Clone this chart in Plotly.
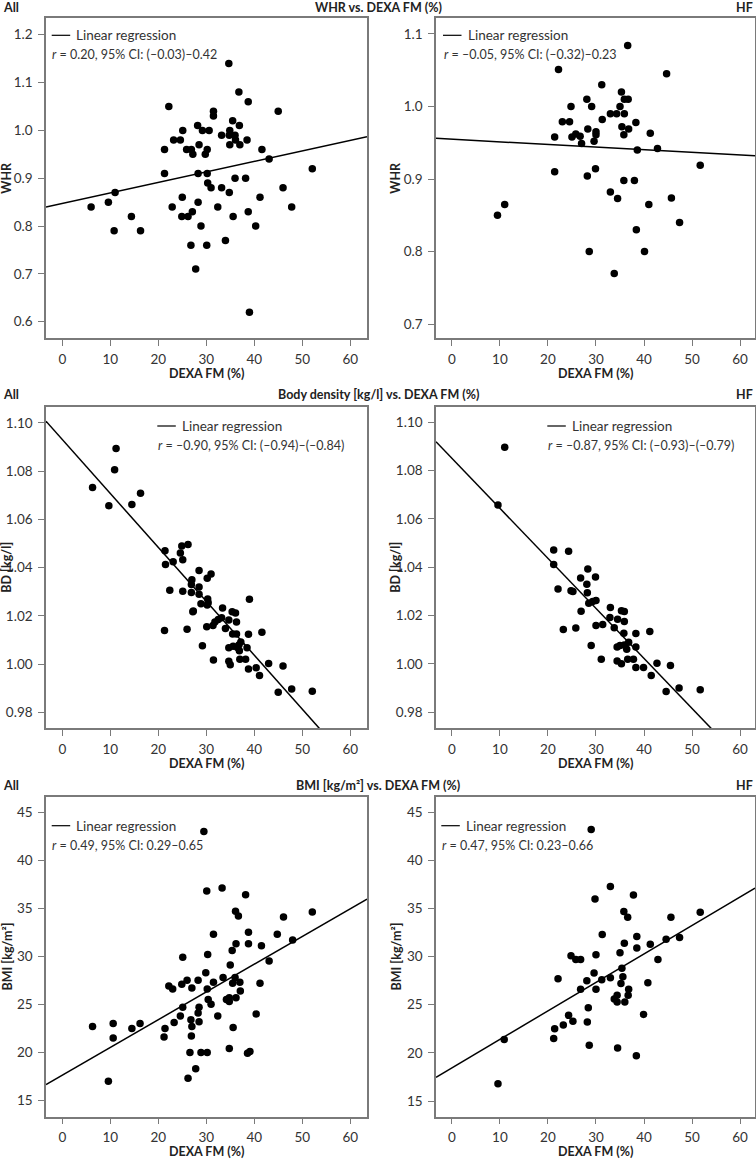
import plotly.graph_objects as go

W, H = 756, 1160

# ---------- values ----------------------------------------------------------

fm_ticks = [0, 10, 20, 30, 40, 50, 60]

# WHR vs DEXA FM, all subjects
all_whr_fm = [34.7, 36.8, 38.75, 22.2, 31.5, 31.5, 45.0, 35.5, 28.2, 36.9, 25.1, 29.2, 30.6, 34.9,
              33.2, 34.8, 36.0, 36.1, 38.5, 34.9, 37.0, 23.2, 24.6, 28.5, 21.3, 25.9, 26.9, 30.2,
              27.2, 29.8, 41.6, 43.1, 52.1, 21.3, 28.3, 30.2, 30.3, 31.0, 33.2, 36.0, 38.2, 34.8,
              11.0, 46.0, 25.0, 41.2, 6.0, 9.6, 14.4, 10.8, 16.3, 22.9, 24.9, 26.2, 27.1, 28.3,
              28.9, 26.8, 30.1, 27.8, 32.4, 34.0, 35.6, 38.75, 40.3, 47.8, 39.0]
all_whr = [1.14, 1.08, 1.06, 1.05, 1.04, 1.03, 1.04, 1.02, 1.01, 1.01, 1.00, 1.00, 1.00, 1.00,
           0.99, 0.99, 0.99, 0.98, 0.98, 0.97, 0.97, 0.98, 0.98, 0.97, 0.96, 0.96, 0.96, 0.96,
           0.95, 0.95, 0.96, 0.94, 0.92, 0.91, 0.91, 0.91, 0.89, 0.88, 0.88, 0.90, 0.90, 0.87,
           0.87, 0.88, 0.86, 0.86, 0.84, 0.85, 0.82, 0.79, 0.79, 0.84, 0.82, 0.82, 0.83, 0.85,
           0.80, 0.76, 0.76, 0.71, 0.84, 0.77, 0.82, 0.83, 0.80, 0.84, 0.62]

# WHR vs DEXA FM, HF
hf_whr_fm = [36.6, 22.2, 44.7, 31.2, 35.3, 28.1, 35.9, 36.7, 24.8, 29.1, 35.0, 33.0, 34.3, 35.9,
             23.0, 24.5, 31.3, 38.3, 35.4, 36.8, 28.3, 41.3, 30.0, 30.0, 25.8, 21.4, 25.0, 26.7,
             35.8, 27.0, 29.6, 42.8, 38.6, 21.4, 28.2, 29.9, 35.8, 38.0, 51.7, 33.0, 34.5, 45.7,
             9.5, 11.0, 28.6, 33.8, 38.4, 41.0, 40.1, 47.4]
hf_whr = [1.084, 1.051, 1.045, 1.03, 1.02, 1.01, 1.01, 1.01, 1.0, 1.0, 1.0, 0.99, 0.99, 0.99,
          0.979, 0.979, 0.982, 0.978, 0.972, 0.969, 0.969, 0.963, 0.965, 0.961, 0.962, 0.958, 0.958, 0.959,
          0.961, 0.949, 0.952, 0.942, 0.94, 0.91, 0.904, 0.914, 0.898, 0.898, 0.919, 0.882, 0.873, 0.874,
          0.85, 0.865, 0.80, 0.77, 0.83, 0.865, 0.80, 0.84]

# Body density vs DEXA FM, all subjects
all_bd_fm = [11.2, 10.9, 6.3, 9.7, 14.5, 16.3, 21.4, 21.5, 23.1, 24.6, 24.9, 26.2, 25.1, 28.5,
             31.0, 30.2, 22.4, 25.1, 27.0, 26.9, 28.5, 26.9, 28.5, 30.3, 30.4, 30.2, 28.9, 27.3,
             27.2, 33.4, 35.4, 36.1, 34.7, 36.3, 33.2, 31.8, 32.5, 31.4, 30.1, 34.0, 39.0, 21.3,
             26.0, 35.5, 36.3, 38.8, 41.6, 37.2, 36.8, 34.7, 35.6, 36.5, 36.9, 38.5, 29.2, 31.5,
             34.7, 35.0, 37.0, 38.2, 38.8, 40.4, 43.0, 46.0, 41.1, 45.0, 47.8, 52.1]
all_bd = [1.0894, 1.0806, 1.0732, 1.0657, 1.0662, 1.0708, 1.047, 1.0413, 1.0424, 1.0461, 1.049, 1.0496, 1.0433, 1.0388,
          1.0374, 1.0356, 1.0306, 1.0302, 1.035, 1.033, 1.032, 1.0297, 1.029, 1.027, 1.0255, 1.0245, 1.025, 1.022,
          1.0217, 1.0233, 1.0217, 1.0212, 1.0183, 1.0175, 1.0192, 1.0175, 1.0185, 1.016, 1.0155, 1.0148, 1.0269, 1.0139,
          1.0145, 1.0125, 1.0125, 1.0124, 1.0132, 1.0092, 1.0079, 1.0068, 1.0074, 1.0069, 1.0055, 1.0068, 1.0076, 1.0017,
          1.0012, 0.9997, 1.002, 1.002, 0.998, 0.9985, 1.0003, 0.9992, 0.9953, 0.9883, 0.9897, 0.9888]

# Body density vs DEXA FM, HF
hf_bd_fm = [11.0, 9.6, 21.2, 21.2, 24.3, 28.3, 26.8, 29.9, 22.1, 24.8, 25.2, 28.1, 28.2, 28.5,
            29.3, 30.0, 26.9, 33.0, 32.9, 34.5, 35.3, 35.9, 35.9, 30.0, 31.4, 33.8, 23.2, 25.8,
            35.8, 38.3, 41.2, 29.0, 34.4, 35.0, 36.8, 36.4, 38.3, 35.9, 31.1, 34.4, 35.3, 36.6,
            37.8, 38.3, 39.9, 42.7, 45.5, 41.5, 44.6, 47.3, 51.7]
hf_bd = [1.0897, 1.0658, 1.0472, 1.0412, 1.0466, 1.0393, 1.0356, 1.036, 1.031, 1.0303, 1.030, 1.033, 1.0295, 1.0251,
         1.0258, 1.0263, 1.0218, 1.0234, 1.0192, 1.0185, 1.022, 1.0217, 1.0176, 1.0159, 1.0163, 1.015, 1.0143, 1.0149,
         1.0127, 1.0126, 1.0134, 1.0077, 1.007, 1.0076, 1.009, 1.0061, 1.007, 1.0079, 1.002, 1.0012, 1.0001, 1.002,
         1.002, 0.9986, 0.9986, 1.0003, 0.9994, 0.9952, 0.9886, 0.9901, 0.9893]

# BMI vs DEXA FM, all subjects
all_bmi_fm = [29.5, 30.1, 33.3, 38.2, 36.1, 36.7, 46.1, 52.1, 31.5, 38.8, 44.8, 48.0, 36.2, 38.8,
              41.5, 35.4, 30.3, 25.1, 43.1, 35.0, 6.3, 10.6, 10.6, 14.5, 16.2, 9.6, 21.4, 21.2,
              22.2, 23.0, 23.3, 24.6, 24.9, 26.0, 25.1, 27.0, 26.8, 27.0, 26.9, 26.6, 26.2, 27.8,
              28.3, 28.5, 28.3, 28.5, 28.9, 29.9, 30.2, 30.2, 30.4, 31.0, 31.5, 32.4, 33.5, 34.2,
              34.8, 34.8, 35.5, 36.0, 36.2, 37.0, 37.1, 35.6, 34.8, 38.6, 39.1, 40.4, 41.2]
all_bmi = [43.0, 36.8, 37.1, 36.4, 34.7, 34.2, 34.1, 34.6, 32.3, 32.5, 32.3, 31.7, 31.3, 31.3,
           31.1, 30.6, 30.2, 29.9, 29.5, 29.1, 22.7, 23.0, 21.5, 22.5, 23.0, 17.0, 22.5, 21.6,
           26.9, 26.6, 23.1, 23.8, 27.1, 27.5, 24.7, 26.7, 23.4, 22.7, 21.7, 20.0, 17.3, 18.3,
           27.5, 24.7, 24.1, 23.2, 20.0, 28.3, 20.0, 26.6, 25.5, 25.0, 27.3, 23.8, 27.8, 25.5,
           25.7, 25.3, 27.2, 27.8, 25.7, 27.3, 26.4, 22.6, 20.4, 19.9, 20.1, 24.0, 27.2]

# BMI vs DEXA FM, HF
hf_bmi_fm = [29.0, 33.0, 29.8, 37.8, 35.8, 36.6, 45.6, 51.7, 31.3, 38.5, 44.6, 47.4, 35.9, 38.5,
             41.3, 35.0, 30.0, 24.8, 25.8, 26.8, 42.9, 35.4, 22.1, 29.6, 28.1, 31.2, 33.0, 35.6,
             35.2, 36.8, 36.7, 34.4, 33.8, 34.4, 36.0, 26.8, 30.0, 40.8, 28.4, 24.3, 25.2, 23.2,
             21.4, 21.2, 28.2, 10.9, 9.6, 28.6, 34.5, 38.4, 39.9]
hf_bmi = [43.2, 37.3, 36.0, 36.4, 34.7, 34.1, 34.1, 34.6, 32.3, 32.1, 31.8, 32.0, 31.4, 30.9,
          31.3, 30.4, 30.2, 30.1, 29.7, 29.7, 29.7, 28.8, 27.7, 28.3, 27.5, 27.6, 27.8, 27.9,
          27.2, 26.6, 26.0, 26.0, 25.6, 25.3, 25.3, 26.6, 26.6, 27.3, 24.7, 23.9, 23.3, 22.9,
          22.5, 21.5, 23.2, 21.4, 16.8, 20.8, 20.5, 19.7, 24.0]

# regression lines as drawn (intercept, slope)
reg_intercept = [0.8475, 0.9548, 1.0931, 1.0851, 17.63, 18.44]
reg_slope = [0.002193, -0.000362, -0.002235, -0.00207, 0.2886, 0.2962]

r_texts = [
    "<i>r</i> = 0.20, 95% CI: (–0.03)–0.42",
    "<i>r</i> = –0.05, 95% CI: (–0.32)–0.23",
    "<i>r</i> = –0.90, 95% CI: (–0.94)–(–0.84)",
    "<i>r</i> = –0.87, 95% CI: (–0.93)–(–0.79)",
    "<i>r</i> = 0.49, 95% CI: 0.29–0.65",
    "<i>r</i> = 0.47, 95% CI: 0.23–0.66",
]

row_titles = ["WHR vs. DEXA FM (%)", "Body density [kg/l] vs. DEXA FM (%)",
              "BMI [kg/m²] vs. DEXA FM (%)"]
y_titles = ["WHR", "WHR", "BD [kg/l]", "BD [kg/l]", "BMI [kg/m²]", "BMI [kg/m²]"]
y_ticks = [
    [0.6, 0.7, 0.8, 0.9, 1.0, 1.1, 1.2],
    [0.7, 0.8, 0.9, 1.0, 1.1],
    [0.98, 1.00, 1.02, 1.04, 1.06, 1.08, 1.10],
    [0.98, 1.00, 1.02, 1.04, 1.06, 1.08, 1.10],
    [15, 20, 25, 30, 35, 40, 45],
    [15, 20, 25, 30, 35, 40, 45],
]

xs = [all_whr_fm, hf_whr_fm, all_bd_fm, hf_bd_fm, all_bmi_fm, hf_bmi_fm]
ys = [all_whr, hf_whr, all_bd, hf_bd, all_bmi, hf_bmi]

# ---------- layout (pixel boxes of each panel) -------------------------------
boxes = [(46, 17.5, 367, 338), (436, 17.5, 755, 338),
         (46, 407, 367, 728.3), (436, 407, 755, 728.3),
         (46, 796.5, 367, 1116.5), (436, 796.5, 755, 1116.5)]
x_ranges = [[-3.4, 63.5], [-3.3, 63.1]] * 3
y_ranges = [[0.566, 1.236], [0.681, 1.1225], [0.9734, 1.1066], [0.9734, 1.1063],
            [13.33, 46.63], [13.39, 46.64]]
y_fmt = [".1f", ".1f", ".2f", ".2f", "d", "d"]
# legend line start offset (px from panel left) and vertical offsets (px from top)
leg_dx = [5.7, 7, 111.3, 111.3, 5.7, 5.3]
leg_dy = [17.8, 17.8, 19, 19, 29.2, 29.2]
ytitle_x = [7, 396]

FONT = "Lato"
AX_COL = "#7a7a7a"


def fx(p):
    return p / W


def fy(p):
    return 1 - p / H


fig = go.Figure()
annotations = []
shapes = []

for i in range(6):
    n = "" if i == 0 else str(i + 1)
    left, top, right, bottom = boxes[i]
    fig.add_trace(go.Scatter(
        x=xs[i], y=ys[i], mode="markers", xaxis="x" + n, yaxis="y" + n,
        marker=dict(color="black", size=7.5), showlegend=False, hoverinfo="x+y",
    ))
    x0, x1 = x_ranges[i]
    fig.add_trace(go.Scatter(
        x=[x0, x1], y=[reg_intercept[i] + reg_slope[i] * x0, reg_intercept[i] + reg_slope[i] * x1],
        mode="lines", xaxis="x" + n, yaxis="y" + n,
        line=dict(color="black", width=1.5), showlegend=False, hoverinfo="skip",
    ))
    axis_common = dict(showline=True, mirror=True, linecolor=AX_COL, linewidth=1.5,
                       ticks="outside", ticklen=6, tickcolor=AX_COL, tickwidth=1.2,
                       showgrid=False, zeroline=False,
                       tickfont=dict(family=FONT, size=13.5, color="#333"))
    fig.update_layout({
        "xaxis" + n: dict(axis_common, domain=[fx(left), fx(right)], range=x_ranges[i],
                          tickvals=fm_ticks, anchor="y" + n, ticklabelstandoff=2),
        "yaxis" + n: dict(axis_common, domain=[fy(bottom), fy(top)], range=y_ranges[i],
                          tickvals=y_ticks[i], tickformat=y_fmt[i], anchor="x" + n,
                          ticklabelstandoff=3),
    })

    # in-plot legend: line sample + text, then r line
    lx = left + leg_dx[i]
    ly = top + leg_dy[i]
    shapes.append(dict(type="line", xref="paper", yref="paper",
                       x0=fx(lx), x1=fx(lx + 18.5), y0=fy(ly), y1=fy(ly),
                       line=dict(color="black", width=1.2)))
    annotations.append(dict(text="Linear regression", x=fx(lx + 22.5), y=fy(ly),
                            xref="paper", yref="paper", xanchor="left", yanchor="middle",
                            showarrow=False, font=dict(family=FONT, size=13.5, color="#333")))
    annotations.append(dict(text=r_texts[i], x=fx(lx - 1.5), y=fy(ly + 19.4),
                            xref="paper", yref="paper", xanchor="left", yanchor="middle",
                            showarrow=False, font=dict(family=FONT, size=12.5, color="#333")))

    # axis titles
    annotations.append(dict(text="<b>DEXA FM (%)</b>", x=fx((left + right) / 2), y=fy(bottom + 35),
                            xref="paper", yref="paper", xanchor="center", yanchor="middle",
                            showarrow=False, font=dict(family=FONT, size=12.5, color="#222")))
    annotations.append(dict(text="<b>" + y_titles[i] + "</b>", x=fx(ytitle_x[i % 2]),
                            y=fy((top + bottom) / 2), textangle=-90,
                            xref="paper", yref="paper", xanchor="center", yanchor="middle",
                            showarrow=False, font=dict(family=FONT, size=12.5, color="#222")))

# row headers
for r, ty in enumerate([7, 395, 785]):
    hdr = dict(xref="paper", yref="paper", yanchor="middle", showarrow=False,
               font=dict(family=FONT, size=12.5, color="#222"), y=fy(ty))
    annotations.append(dict(hdr, text="<b>All</b>", x=fx(1), xanchor="left"))
    annotations.append(dict(hdr, text="<b>" + row_titles[r] + "</b>", x=fx(378), xanchor="center"))
    annotations.append(dict(hdr, text="<b>HF</b>", x=fx(755), xanchor="right"))

fig.update_layout(
    width=W, height=H,
    margin=dict(l=0, r=0, t=0, b=0),
    paper_bgcolor="white", plot_bgcolor="white",
    annotations=annotations, shapes=shapes,
    font=dict(family=FONT),
)

fig.write_html("out.html", config={"displayModeBar": False},
               post_script="document.body.style.margin='0';")
